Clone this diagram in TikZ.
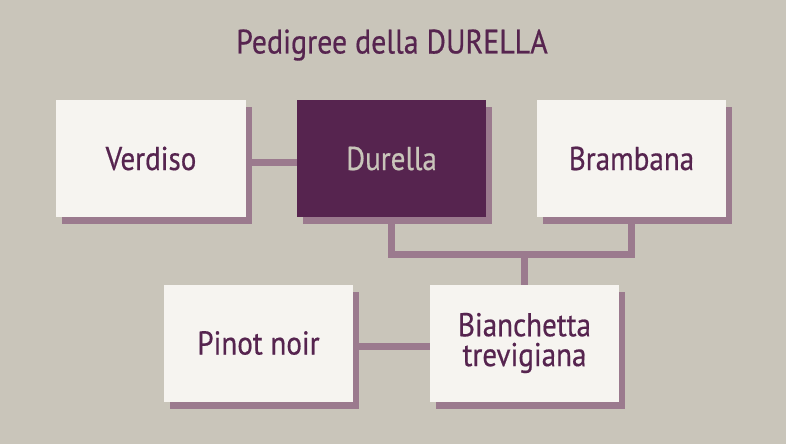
\documentclass[tikz,border=0pt]{standalone}
\usepackage{fontspec}
\setmainfont[FakeStretch=0.88,FakeBold=0.5,AutoFakeBold=0.5]{PT Sans}
\usetikzlibrary{shadows}

\definecolor{paper}{HTML}{C9C5BA}
\definecolor{boxfill}{HTML}{F6F4F0}
\definecolor{wine}{HTML}{56244F}
\definecolor{mauve}{HTML}{9B7A8E}

\begin{document}
\begin{tikzpicture}[
    x=0.02cm,
    y=-0.02cm,
    vine/.style={
        fill=boxfill,
        text=wine,
        minimum width=3.8cm,
        minimum height=2.34cm,
        align=center,
        font=\fontsize{18.8}{20}\selectfont,
        inner sep=0pt,
        drop shadow={
            shadow xshift=0.12cm,
            shadow yshift=-0.14cm,
            fill=mauve,
            opacity=1
        }
    },
    main vine/.style={
        vine,
        fill=wine,
        text=paper
    },
    link/.style={
        draw=mauve,
        line width=0.14cm
    },
    ]
    \fill[paper] (0,0) rectangle (786,444);
    \useasboundingbox (0,0) rectangle (786,444);

    \node[text=wine, font=\fontsize{19.3}{20}\selectfont] (title) at (392,45) {Pedigree della DURELLA};

    % links first, boxes on top
    \coordinate (fork) at (524.5,254);
    \coordinate (verdisolink) at (151,162);
    \coordinate (durellalink) at (391.5,162);
    \coordinate (pinotlink) at (258.5,346.5);
    \coordinate (bianchettalink) at (524.5,346.5);
    \draw[link] (verdisolink) -- (durellalink);
    \draw[link] (pinotlink) -- (bianchettalink);
    \draw[link] (391.5,200) |- (fork) -| (631.5,200);
    \draw[link] (fork) -- (524.5,300);

    \node[vine] (verdiso) at (151,158.5) {Verdiso};
    \node[main vine] (durella) at (391.5,158.5) {Durella};
    \node[vine] (brambana) at (631.5,158.5) {Brambana};
    \node[vine] (pinot) at (258.5,343) {Pinot noir};
    \node[vine] (bianchetta) at (524.5,343) {Bianchetta\\[-3pt]trevigiana};
\end{tikzpicture}
\end{document}
